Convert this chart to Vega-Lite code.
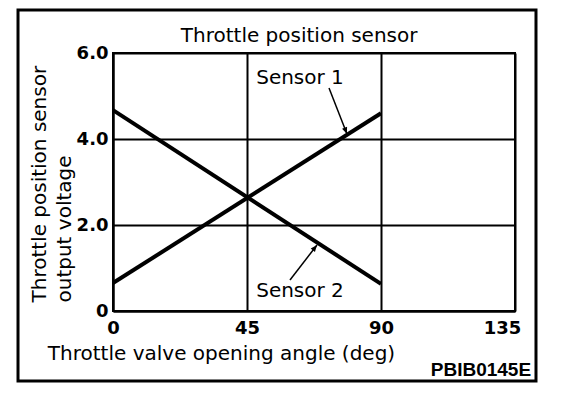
{
  "$schema": "https://vega.github.io/schema/vega-lite/v6.json",
  "autosize": {"type": "none"},
  "width": 402,
  "height": 258,
  "padding": {"left": 113, "top": 53, "right": 61, "bottom": 103},
  "background": "white",
  "datasets": {
    "lines": [
      {"sensor": "Sensor 1", "angle": 0, "voltage": 0.65},
      {"sensor": "Sensor 1", "angle": 90, "voltage": 4.6},
      {"sensor": "Sensor 2", "angle": 0, "voltage": 4.67},
      {"sensor": "Sensor 2", "angle": 90, "voltage": 0.63}
    ],
    "labels": [
      {"text": "Sensor 1", "angle": 62.8, "voltage": 5.42},
      {"text": "Sensor 2", "angle": 62.8, "voltage": 0.465}
    ],
    "heading": [
      {"text": "Throttle position sensor", "angle": 62.5, "voltage": 6.256}
    ],
    "arrows": [
      {"x1": 72.54, "y1": 5.186, "x2": 78.58, "y2": 4.116, "dir": 158.6},
      {"x1": 59.44, "y1": 0.721, "x2": 68.51, "y2": 1.535, "dir": 38.5}
    ],
    "frame": [
      {"x1": -31.9, "x2": 142.05, "y1": 7.0, "y2": -1.628}
    ],
    "code": [
      {"text": "PBIB0145E", "angle": 140.4, "voltage": -1.372}
    ]
  },
  "layer": [
    {
      "data": {"name": "frame"},
      "mark": {"type": "rect", "fillOpacity": 0, "stroke": "black", "strokeWidth": 3, "clip": false},
      "encoding": {
        "x": {"field": "x1", "type": "quantitative", "scale": {"domain": [0, 135], "nice": false, "zero": false}},
        "x2": {"field": "x2"},
        "y": {"field": "y1", "type": "quantitative", "scale": {"domain": [0, 6], "nice": false, "zero": false}},
        "y2": {"field": "y2"}
      }
    },
    {
      "data": {"name": "lines"},
      "mark": {"type": "line", "color": "black", "strokeWidth": 4},
      "encoding": {
        "x": {
          "field": "angle",
          "type": "quantitative",
          "scale": {"domain": [0, 135], "nice": false, "zero": false},
          "axis": {
            "values": [0, 45, 90, 135],
            "title": "Throttle valve opening angle (deg)",
            "titleFont": "DejaVu Sans",
            "titleFontSize": 20,
            "titleFontWeight": "normal",
            "titleColor": "black",
            "titleX": 108,
            "titleY": 48,
            "titleAlign": "center",
            "titleBaseline": "alphabetic",
            "labelPadding": 8,
            "labelFlush": false,
            "labelOffset": {"condition": {"test": "datum.value == 135", "value": -13}, "value": 0},
            "grid": true
          }
        },
        "y": {
          "field": "voltage",
          "type": "quantitative",
          "scale": {"domain": [0, 6], "nice": false, "zero": false},
          "axis": {
            "values": [0, 2, 4, 6],
            "labelExpr": "datum.value == 0 ? '0' : format(datum.value, '.1f')",
            "title": ["Throttle position sensor", "output voltage"],
            "titleFont": "DejaVu Sans",
            "titleFontSize": 20,
            "titleFontWeight": "normal",
            "titleColor": "black",
            "titleAngle": -90,
            "titleAlign": "left",
            "titleBaseline": "alphabetic",
            "titleLineHeight": 25,
            "titleX": -68,
            "titleY": 249,
            "labelPadding": 5,
            "labelFlush": false,
            "grid": true
          }
        },
        "detail": {"field": "sensor"}
      }
    },
    {
      "data": {"name": "arrows"},
      "mark": {"type": "rule", "color": "black", "strokeWidth": 1.5},
      "encoding": {
        "x": {"field": "x1", "type": "quantitative"},
        "y": {"field": "y1", "type": "quantitative"},
        "x2": {"field": "x2"},
        "y2": {"field": "y2"}
      }
    },
    {
      "data": {"name": "arrows"},
      "mark": {"type": "point", "shape": "M0,0L0.4,1L-0.4,1Z", "filled": true, "color": "black", "size": 180, "opacity": 1},
      "encoding": {
        "x": {"field": "x2", "type": "quantitative"},
        "y": {"field": "y2", "type": "quantitative"},
        "angle": {"field": "dir", "type": "quantitative", "scale": null}
      }
    },
    {
      "data": {"name": "labels"},
      "mark": {"type": "text", "font": "DejaVu Sans", "fontSize": 20, "color": "black", "align": "center", "baseline": "middle"},
      "encoding": {
        "x": {"field": "angle", "type": "quantitative"},
        "y": {"field": "voltage", "type": "quantitative"},
        "text": {"field": "text"}
      }
    },
    {
      "data": {"name": "heading"},
      "mark": {"type": "text", "font": "DejaVu Sans", "fontSize": 20, "color": "black", "align": "center", "baseline": "alphabetic", "clip": false},
      "encoding": {
        "x": {"field": "angle", "type": "quantitative"},
        "y": {"field": "voltage", "type": "quantitative"},
        "text": {"field": "text"}
      }
    },
    {
      "data": {"name": "code"},
      "mark": {"type": "text", "font": "Liberation Sans", "fontWeight": "bold", "fontSize": 19, "color": "black", "align": "right", "baseline": "middle", "clip": false},
      "encoding": {
        "x": {"field": "angle", "type": "quantitative"},
        "y": {"field": "voltage", "type": "quantitative"},
        "text": {"field": "text"}
      }
    }
  ],
  "config": {
    "view": {"stroke": "black", "strokeWidth": 2},
    "axis": {
      "domainColor": "black",
      "domainWidth": 2,
      "gridColor": "black",
      "gridWidth": 2,
      "gridOpacity": 1,
      "ticks": false,
      "labelColor": "black",
      "labelFont": "DejaVu Sans",
      "labelFontWeight": "bold",
      "labelFontSize": 18
    }
  }
}
